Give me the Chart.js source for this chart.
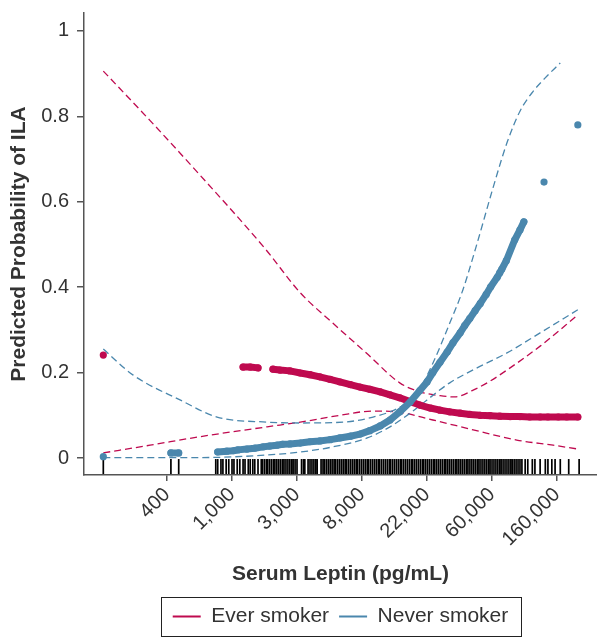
<!DOCTYPE html>
<html>
<head>
<meta charset="utf-8">
<script src="https://cdn.jsdelivr.net/npm/chart.js@4.4.0/dist/chart.umd.min.js"></script>
<style>
  html, body { margin: 0; padding: 0; background: #fff; }
</style>
</head>
<body>
<canvas id="myChart" width="597" height="637"></canvas>
<script>
// x values are ln(serum leptin, pg/mL); tick labels are the rounded exp() values
const xTickValues = [6, 7, 8, 9, 10, 11, 12];
const xTickLabels = ['400', '1,000', '3,000', '8,000', '22,000', '60,000', '160,000'];
const yTickValues = [0, 0.2, 0.4, 0.6, 0.8, 1];
const seriesLabels = ['Ever smoker', 'Never smoker'];

// predicted probability, ever smokers
const everPts = [
  [5.02, 0.241], [7.17, 0.213], [7.28, 0.213], [7.40, 0.211], [7.63, 0.208], [7.74, 0.206],
  [7.89, 0.204], [8.05, 0.199], [8.20, 0.195], [8.35, 0.190], [8.51, 0.184], [8.66, 0.178],
  [8.82, 0.172], [8.97, 0.166], [9.12, 0.161], [9.28, 0.155], [9.43, 0.148], [9.58, 0.141],
  [9.74, 0.132], [9.89, 0.124], [10.05, 0.117], [10.20, 0.112], [10.35, 0.108], [10.51, 0.105],
  [10.66, 0.102], [10.82, 0.100], [10.97, 0.099], [11.12, 0.098], [11.28, 0.097], [11.43, 0.097],
  [11.58, 0.096], [11.74, 0.096], [11.86, 0.096], [12.02, 0.096], [12.15, 0.096], [12.32, 0.096]
];
const everUpper = [
  [5.02, 0.906], [5.74, 0.790], [6.51, 0.662], [7.51, 0.490], [8.05, 0.387], [8.55, 0.316],
  [9.08, 0.244], [9.58, 0.176], [9.89, 0.155], [10.20, 0.146], [10.43, 0.143], [10.71, 0.159],
  [10.97, 0.180], [11.23, 0.206], [11.74, 0.262], [12.32, 0.335]
];
const everLower = [
  [5.02, 0.012], [5.74, 0.030], [6.51, 0.050], [7.54, 0.073], [8.05, 0.084], [8.66, 0.100],
  [9.17, 0.110], [9.54, 0.108], [10.09, 0.089], [10.71, 0.066], [11.38, 0.042], [11.94, 0.030],
  [12.32, 0.021]
];

// predicted probability, never smokers
const neverPts = [
  [5.02, 0.003], [6.06, 0.012], [6.18, 0.012], [6.78, 0.014], [6.92, 0.016], [7.02, 0.017],
  [7.09, 0.019], [7.23, 0.021], [7.35, 0.023], [7.48, 0.026], [7.58, 0.028], [7.69, 0.030],
  [7.78, 0.032], [7.89, 0.033], [8.05, 0.035], [8.20, 0.038], [8.35, 0.040], [8.51, 0.043],
  [8.66, 0.047], [8.82, 0.051], [8.97, 0.056], [9.12, 0.064], [9.28, 0.075], [9.43, 0.089],
  [9.58, 0.108], [9.74, 0.131], [9.89, 0.158], [10.00, 0.178], [10.09, 0.200], [10.20, 0.224],
  [10.31, 0.248], [10.40, 0.270], [10.51, 0.293], [10.58, 0.310], [10.66, 0.327], [10.74, 0.345],
  [10.82, 0.362], [10.91, 0.383], [10.98, 0.401], [11.08, 0.423], [11.12, 0.434], [11.15, 0.442],
  [11.22, 0.462], [11.35, 0.511], [11.43, 0.534], [11.49, 0.553], [11.80, 0.646], [12.32, 0.780]
];
const neverUpper = [
  [5.02, 0.255], [5.48, 0.194], [6.20, 0.136], [6.77, 0.096], [7.54, 0.084], [8.05, 0.082],
  [8.71, 0.084], [9.17, 0.096], [9.58, 0.119], [9.85, 0.152], [10.09, 0.222], [10.35, 0.316],
  [10.55, 0.393], [10.75, 0.492], [11.02, 0.635], [11.23, 0.738], [11.43, 0.812], [11.63, 0.858],
  [11.85, 0.895], [12.05, 0.925]
];
const neverLower = [
  [5.02, 0.001], [6.51, 0.001], [7.54, 0.007], [8.05, 0.014], [8.55, 0.026], [9.08, 0.047],
  [9.43, 0.073], [9.74, 0.105], [10.00, 0.136], [10.35, 0.176], [10.77, 0.211], [11.23, 0.246],
  [11.74, 0.293], [12.32, 0.347]
];

// observed ln(leptin) values for the rug
const rugValues = [
  5.02, 6.06, 6.18, 6.75, 6.78, 6.83, 6.86, 6.91, 6.95, 7.00, 7.03, 7.08, 7.12, 7.17, 7.20,
  7.25, 7.28, 7.32, 7.35, 7.40, 7.45, 7.47, 7.50, 7.53, 7.55, 7.58, 7.61, 7.64, 7.66, 7.69,
  7.72, 7.75, 7.78, 7.80, 7.83, 7.86, 7.89, 7.92, 7.94, 7.97, 8.00, 8.07, 8.10, 8.12, 8.17,
  8.20, 8.23, 8.26, 8.29, 8.31, 8.37, 8.40, 8.42, 8.45, 8.48, 8.51, 8.54, 8.57, 8.59, 8.62,
  8.65, 8.68, 8.71, 8.74, 8.76, 8.79, 8.82, 8.85, 8.88, 8.91, 8.93, 8.96, 8.99, 9.02, 9.05,
  9.08, 9.10, 9.13, 9.16, 9.19, 9.22, 9.25, 9.27, 9.30, 9.33, 9.36, 9.39, 9.42, 9.44, 9.47,
  9.50, 9.53, 9.56, 9.59, 9.61, 9.64, 9.67, 9.70, 9.73, 9.76, 9.78, 9.81, 9.84, 9.87, 9.90,
  9.93, 9.95, 9.98, 10.01, 10.04, 10.07, 10.10, 10.12, 10.15, 10.18, 10.21, 10.24, 10.27, 10.29,
  10.32, 10.35, 10.38, 10.41, 10.44, 10.46, 10.49, 10.52, 10.55, 10.58, 10.61, 10.63, 10.66,
  10.69, 10.72, 10.75, 10.78, 10.80, 10.83, 10.86, 10.89, 10.92, 10.95, 10.97, 11.00, 11.03,
  11.06, 11.09, 11.12, 11.14, 11.17, 11.20, 11.23, 11.26, 11.29, 11.31, 11.34, 11.37, 11.40,
  11.43, 11.46, 11.51, 11.55, 11.62, 11.66, 11.74, 11.82, 11.86, 11.92, 11.97, 12.05, 12.18, 12.34
];

const RED = '#bf0a4f';
const BLUE = '#4a87ad';
const TEXT = '#333333';
const AXIS = '#555555';
const FONT = '"Liberation Sans", Arial, Helvetica, sans-serif';

const toXY = (arr) => arr.map(([x, y]) => ({ x, y }));

// dots touching each other are joined into a thick band, gaps stay open
function pointSeries(label, pts, color) {
  return {
    label,
    data: toXY(pts),
    showLine: true,
    borderColor: color,
    borderWidth: 7,
    borderCapStyle: 'round',
    borderJoinStyle: 'round',
    segment: {
      borderColor: (c) => (c.p1.parsed.x - c.p0.parsed.x > 0.17 ? 'rgba(0,0,0,0)' : color),
    },
    pointRadius: 3.6,
    pointBorderWidth: 0,
    pointBackgroundColor: color,
  };
}

function ciLine(pts, color) {
  return {
    label: '',
    data: toXY(pts),
    showLine: true,
    borderColor: color,
    borderWidth: 1.3,
    borderDash: [7, 4],
    cubicInterpolationMode: 'monotone',
    pointRadius: 0,
  };
}

// draws the frame around the legend
const legendFrame = {
  id: 'legendFrame',
  afterDraw(chart) {
    const hb = chart.legend && chart.legend.legendHitBoxes;
    if (!hb || !hb.length) return;
    const left = hb[0].left - 12;
    const right = hb[hb.length - 1].left + hb[hb.length - 1].width + 12;
    const top = hb[0].top - 9;
    const bottom = hb[0].top + hb[0].height + 9;
    const ctx = chart.ctx;
    ctx.save();
    ctx.strokeStyle = '#222';
    ctx.lineWidth = 1;
    ctx.strokeRect(Math.round(left) + 0.5, Math.round(top) + 0.5, Math.round(right - left), Math.round(bottom - top));
    ctx.restore();
  },
};

const ctx = document.getElementById('myChart').getContext('2d');
new Chart(ctx, {
  type: 'scatter',
  data: {
    datasets: [
      pointSeries(seriesLabels[1], neverPts, BLUE),
      pointSeries(seriesLabels[0], everPts, RED),
      ciLine(neverUpper, BLUE),
      ciLine(neverLower, BLUE),
      ciLine(everUpper, RED),
      ciLine(everLower, RED),
      {
        label: 'rug',
        data: rugValues.map((x) => ({ x, y: -0.02 })),
        pointStyle: 'line',
        rotation: 90,
        pointRadius: 7.5,
        pointBorderWidth: 1.7,
        pointBorderColor: '#000',
        showLine: false,
      },
    ],
  },
  options: {
    responsive: false,
    animation: false,
    layout: { autoPadding: false, padding: { top: 13, left: 0, right: 0, bottom: 0 } },
    plugins: {
      tooltip: { enabled: false },
      legend: {
        position: 'bottom',
        fullSize: false,
        labels: {
          color: TEXT,
          font: { family: FONT, size: 21 },
          boxWidth: 28,
          boxHeight: 2,
          padding: 10,
          generateLabels: () => [
            { text: seriesLabels[0], fillStyle: RED, strokeStyle: RED, lineWidth: 0, hidden: false, datasetIndex: 1, fontColor: TEXT },
            { text: seriesLabels[1], fillStyle: BLUE, strokeStyle: BLUE, lineWidth: 0, hidden: false, datasetIndex: 0, fontColor: TEXT },
          ],
        },
      },
    },
    scales: {
      x: {
        type: 'linear',
        min: 4.723,
        max: 12.615,
        afterBuildTicks: (scale) => { scale.ticks = xTickValues.map((v) => ({ value: v })); },
        afterFit: (scale) => { scale.height = 121; scale.paddingLeft = 0; scale.paddingRight = 0; },
        ticks: {
          autoSkip: false,
          minRotation: 45,
          maxRotation: 45,
          padding: 2,
          color: TEXT,
          font: { family: FONT, size: 20 },
          callback: (value, index) => xTickLabels[index],
        },
        grid: { drawOnChartArea: false, drawTicks: true, tickLength: 6, color: AXIS, lineWidth: 1.5 },
        border: { display: true, color: AXIS, width: 1.5 },
        title: {
          display: true,
          text: 'Serum Leptin (pg/mL)',
          color: TEXT,
          font: { family: FONT, size: 21, weight: 'bold' },
          padding: { top: 4, bottom: 9 },
        },
      },
      y: {
        type: 'linear',
        min: -0.0398,
        max: 1.042,
        afterBuildTicks: (scale) => { scale.ticks = yTickValues.map((v) => ({ value: v })); },
        afterFit: (scale) => { scale.width = 84; scale.paddingTop = 0; scale.paddingBottom = 0; },
        ticks: {
          padding: 8,
          color: TEXT,
          font: { family: FONT, size: 20 },
          callback: (value) => String(value),
        },
        grid: { drawOnChartArea: false, drawTicks: true, tickLength: 7, color: AXIS, lineWidth: 1.5 },
        border: { display: true, color: AXIS, width: 1.5 },
        title: {
          display: true,
          text: 'Predicted Probability of ILA',
          color: TEXT,
          font: { family: FONT, size: 21, weight: 'bold' },
          padding: { top: 7, bottom: 0 },
        },
      },
    },
  },
  plugins: [legendFrame],
});
</script>
</body>
</html>
